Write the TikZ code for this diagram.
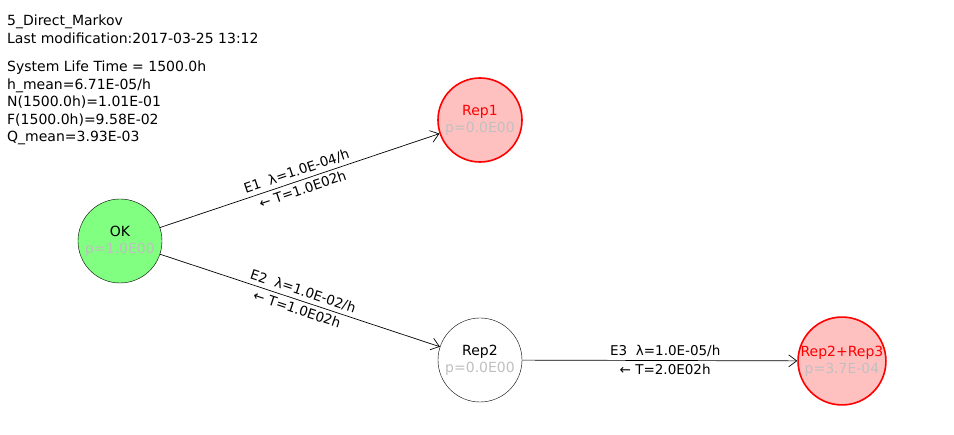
\documentclass[tikz,border=0pt]{standalone}
\usepackage{fontspec}
\setmainfont{DejaVu Sans}
\usetikzlibrary{arrows.meta}
\definecolor{okgreen}{RGB}{128,255,128}
\definecolor{reppink}{RGB}{255,192,192}
\definecolor{pgray}{RGB}{192,192,192}
\tikzset{
  state/.style={circle, draw, minimum size=84pt, inner sep=0pt, align=center,
    font=\fontsize{14}{17}\selectfont},
  failed/.style={state, draw=red, line width=1.6pt, fill=reppink, text=red},
  trans/.style={->, >={Straight Barb[length=8pt,width=12pt]}, line width=0.7pt},
  lab/.style={font=\fontsize{13.5}{16}\selectfont, sloped, inner sep=3.5pt},
  info/.style={anchor=north west, align=left, inner sep=0pt,
    font=\fontsize{14}{17.5}\selectfont}
}
\newcommand{\pval}[1]{\\\textcolor{pgray}{p=#1}}
\begin{document}
\begin{tikzpicture}[x=1pt, y=-1pt]
  \useasboundingbox[fill=white] (0,0) rectangle (954,435);
  % model info
  \node[info] (title) at (7,15) {5\_Direct\_Markov\\Last modification:2017-03-25 13:12};
  \node[info] (stats) at (7,61) {System Life Time = 1500.0h\\h\_mean=6.71E-05/h\\
    N(1500.0h)=1.01E-01\\F(1500.0h)=9.58E-02\\Q\_mean=3.93E-03};
  % states
  \node[state, fill=okgreen] (ok) at (120,241) {OK\pval{1.0E00}};
  \node[failed] (rep1) at (480,120) {Rep1\pval{0.0E00}};
  \node[state] (rep2) at (480,360) {Rep2\pval{0.0E00}};
  \node[failed] (rep23) at (842,361) {Rep2+Rep3\pval{3.7E-04}};
  % transitions
  \draw[trans] (ok) -- (rep1)
    node[lab, pos=0.5, above] {E1~~λ=1.0E-04/h}
    node[lab, pos=0.5, below] {← T=1.0E02h};
  \draw[trans] (ok) -- (rep2)
    node[lab, pos=0.5, above] {E2~~λ=1.0E-02/h}
    node[lab, pos=0.5, below] {← T=1.0E02h};
  \draw[trans] (rep2) -- (rep23)
    node[lab, pos=0.52, above] {E3~~λ=1.0E-05/h}
    node[lab, pos=0.52, below] {← T=2.0E02h};
\end{tikzpicture}
\end{document}
